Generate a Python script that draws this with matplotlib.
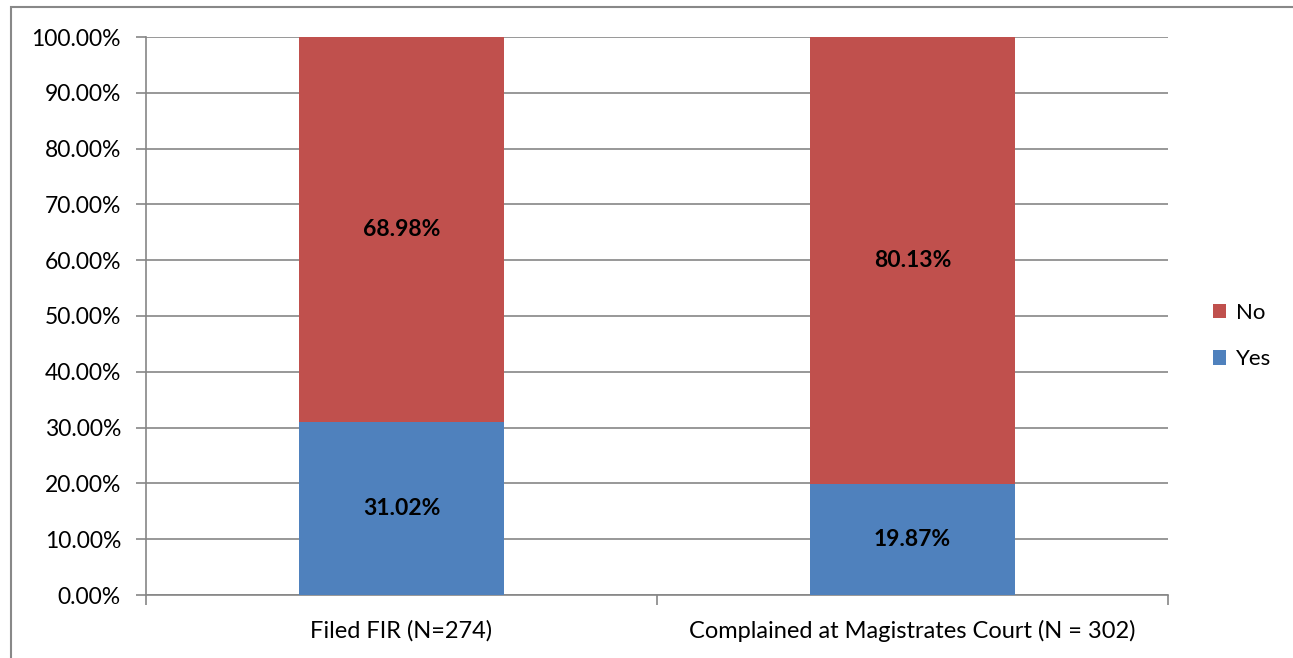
import matplotlib.pyplot as plt
from matplotlib.patches import Rectangle

categories = ["Filed FIR (N=274)", "Complained at Magistrates Court (N = 302)"]
yes_values = [31.02, 19.87]
no_values = [68.98, 80.13]
yticks = [0, 10, 20, 30, 40, 50, 60, 70, 80, 90, 100]

plt.rcParams['font.family'] = ['Lato', 'DejaVu Sans']

fig = plt.figure(figsize=(12.93, 6.58), dpi=100)
ax = fig.add_axes([146 / 1293, 1 - 595 / 658, (1168 - 146) / 1293, (595 - 37) / 658])

x = list(range(len(categories)))
ax.bar(x, yes_values, width=0.4, color='#4F81BD', label='Yes', zorder=3)
ax.bar(x, no_values, width=0.4, bottom=yes_values, color='#C0504D', label='No', zorder=3)

for i in x:
    ax.text(i, yes_values[i] / 2, f"{yes_values[i]:.2f}%", ha='center', va='center',
            fontsize=16.5, fontweight='bold', zorder=4)
    ax.text(i, yes_values[i] + no_values[i] / 2, f"{no_values[i]:.2f}%", ha='center', va='center',
            fontsize=16.5, fontweight='bold', zorder=4)

ax.set_xlim(-0.5, 1.5)
ax.set_ylim(0, 100)
ax.set_yticks(yticks)
ax.set_yticklabels([f"{v:.2f}%" for v in yticks], fontsize=16.5)
ax.yaxis.grid(True, color='#868686', linewidth=1.2, zorder=0)
ax.tick_params(axis='y', length=7, color='#868686', width=1.2, pad=11)

ax.set_xticks([-0.5, 0.5, 1.5])
ax.set_xticklabels([])
ax.tick_params(axis='x', length=7, color='#868686', width=1.2)
for i, c in enumerate(categories):
    ax.text(i, -6.5, c, ha='center', va='center', fontsize=17)

for s in ['top', 'right']:
    ax.spines[s].set_visible(False)
for s in ['left', 'bottom']:
    ax.spines[s].set_color('#868686')
    ax.spines[s].set_linewidth(1.2)

handles, labels = ax.get_legend_handles_labels()
fig.legend(handles[::-1], labels[::-1], loc='center left', bbox_to_anchor=(1193 / 1293, 1 - 336 / 658),
           frameon=False, fontsize=16, handlelength=0.6, handleheight=0.6, handletextpad=0.45,
           labelspacing=1.2)

fig.patches.append(Rectangle((11 / 1293, -0.05), 1.1, 1 - 7 / 658 + 0.05, transform=fig.transFigure,
                             fill=False, edgecolor='#888888', linewidth=1.5))

fig.savefig('out.png', dpi=100)
